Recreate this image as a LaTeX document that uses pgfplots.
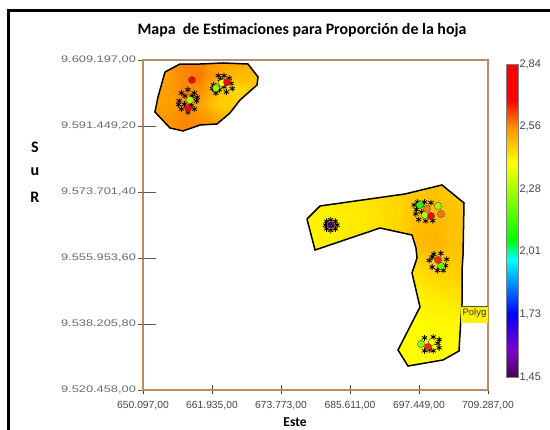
\documentclass[border=0pt]{standalone}
\usepackage{pgfplots}
\usepackage{fontspec}
\pgfplotsset{compat=1.18}
\setmainfont{Liberation Sans}
\newfontfamily\yfont[FakeStretch=1.35]{Liberation Sans}
\newfontfamily\titlefont{Carlito}
\definecolor{axisbrown}{RGB}{188,140,96}
\definecolor{lbl}{RGB}{70,70,70}
\begin{document}
\begin{tikzpicture}[x=1pt,y=1pt]
\path[use as bounding box,fill=white] (-143,-40) rectangle (407,390);
\draw[black,line width=3pt] (-134,-40) -- (-134,379) -- (407,379);
\begin{axis}[
  scale only axis, width=345pt, height=330pt,
  xmin=650.097, xmax=709.287, ymin=9520.458, ymax=9609.197,
  axis line style={axisbrown,line width=1.3pt},
  xtick={650.097,661.935,673.773,685.611,697.449,709.287},
  xticklabels={{650.097,00},{661.935,00},{673.773,00},{685.611,00},{697.449,00},{709.287,00}},
  ytick={9520.458,9538.2058,9555.9536,9573.7014,9591.4492,9609.197},
  yticklabels={{9.520.458,00},{9.538.205,80},{9.555.953,60},{9.573.701,40},{9.591.449,20},{9.609.197,00}},
  xticklabel style={font=\fontsize{10.3}{12}\selectfont,text=lbl,yshift=-3pt},
  yticklabel style={font=\yfont\fontsize{9.5}{11}\selectfont,text=lbl!80,xshift=1pt},
  tick align=center, major tick length=9pt, xtick pos=bottom, ytick pos=left,
  x tick style={black!75,line width=0.7pt},
  y tick style={black!65,line width=0.7pt},
  colormap={estim}{
    rgb255(0pt)=(70,0,90); rgb255(12pt)=(128,0,200); rgb255(28pt)=(0,0,255);
    rgb255(52pt)=(0,255,255); rgb255(61pt)=(0,255,0); rgb255(95pt)=(255,255,0);
    rgb255(111pt)=(255,145,0); rgb255(123pt)=(255,0,0); rgb255(139pt)=(255,0,0)},
  colormap name=estim,
  point meta min=1.45, point meta max=2.84,
  colorbar,
  colorbar shift/.style={},
  colorbar style={
    at={(1.05217,0.03939)}, anchor=south west,
    width=12pt, height=313pt,
    ytick={1.45,1.728,2.006,2.284,2.562,2.84},
    yticklabels={{1,45},{1,73},{2,01},{2,28},{2,56},{2,84}},
    yticklabel style={font=\fontsize{11}{12}\selectfont,text=lbl,xshift=-2pt},
    major tick length=0pt,
    axis line style={gray,line width=0.8pt},
  },
]
% north block surface
\begin{scope}
\clip (653.87,9605.97) -- (656.45,9608.12) -- (659.88,9608.12) -- (663.82,9608.39) -- (668.11,9608.12) -- (669.83,9604.63) -- (669.66,9602.48) -- (666.74,9598.44) -- (665.02,9594.95) -- (662.79,9591.99) -- (659.88,9591.72) -- (656.96,9590.11) -- (654.73,9590.91) -- (652.15,9595.22) -- (652.67,9599.25) -- cycle;
\addplot[surf,shader=interp,mesh/cols=8,point meta=explicit] table[x=x,y=y,meta=c] {
x y c
651 9589 2.54
654 9589 2.55
657 9589 2.57
660 9589 2.56
663 9589 2.55
666 9589 2.53
669 9589 2.53
672 9589 2.53
651 9593 2.54
654 9593 2.55
657 9593 2.57
660 9593 2.56
663 9593 2.53
666 9593 2.51
669 9593 2.51
672 9593 2.51
651 9597 2.54
654 9597 2.54
657 9597 2.55
660 9597 2.53
663 9597 2.47
666 9597 2.47
669 9597 2.49
672 9597 2.49
651 9601 2.54
654 9601 2.54
657 9601 2.57
660 9601 2.56
663 9601 2.48
666 9601 2.45
669 9601 2.47
672 9601 2.48
651 9605 2.54
654 9605 2.54
657 9605 2.57
660 9605 2.58
663 9605 2.53
666 9605 2.50
669 9605 2.49
672 9605 2.49
651 9609 2.55
654 9609 2.55
657 9609 2.57
660 9609 2.57
663 9609 2.54
666 9609 2.53
669 9609 2.53
672 9609 2.52
};
\end{scope}
% south block surface
\begin{scope}
\clip (678.23,9566.44) -- (680.46,9569.94) -- (695.05,9573.17) -- (701.39,9575.59) -- (705.17,9570.75) -- (705.00,9556.76) -- (704.83,9552.73) -- (704.83,9543.85) -- (704.49,9535.79) -- (704.31,9530.95) -- (701.57,9528.53) -- (695.56,9526.91) -- (693.85,9531.21) -- (697.62,9542.78) -- (696.25,9551.92) -- (697.11,9555.95) -- (696.93,9558.64) -- (696.25,9562.14) -- (690.76,9564.02) -- (679.61,9558.10) -- cycle;
\addplot[surf,shader=interp,mesh/cols=8,point meta=explicit] table[x=x,y=y,meta=c] {
x y c
676 9525 2.40
682 9525 2.40
688 9525 2.40
694 9525 2.40
697 9525 2.40
700 9525 2.40
703 9525 2.40
706 9525 2.41
676 9532 2.40
682 9532 2.40
688 9532 2.40
694 9532 2.40
697 9532 2.40
700 9532 2.40
703 9532 2.40
706 9532 2.41
676 9539 2.40
682 9539 2.40
688 9539 2.40
694 9539 2.40
697 9539 2.40
700 9539 2.41
703 9539 2.41
706 9539 2.42
676 9546 2.41
682 9546 2.41
688 9546 2.41
694 9546 2.41
697 9546 2.42
700 9546 2.43
703 9546 2.44
706 9546 2.45
676 9553 2.42
682 9553 2.42
688 9553 2.42
694 9553 2.44
697 9553 2.45
700 9553 2.47
703 9553 2.47
706 9553 2.47
676 9560 2.42
682 9560 2.42
688 9560 2.44
694 9560 2.47
697 9560 2.50
700 9560 2.51
703 9560 2.49
706 9560 2.48
676 9567 2.42
682 9567 2.42
688 9567 2.43
694 9567 2.46
697 9567 2.49
700 9567 2.50
703 9567 2.49
706 9567 2.48
676 9574 2.42
682 9574 2.43
688 9574 2.44
694 9574 2.46
697 9574 2.48
700 9574 2.49
703 9574 2.48
706 9574 2.47
676 9578 2.46
682 9578 2.46
688 9578 2.46
694 9578 2.46
697 9578 2.47
700 9578 2.47
703 9578 2.46
706 9578 2.46
};
\end{scope}
% inner parts of the y ticks
\draw[black!65,line width=0.7pt] (650.097,9591.4492) -- (652.3,9591.4492);
\draw[black!65,line width=0.7pt] (650.097,9573.7014) -- (652.3,9573.7014);
\draw[black!65,line width=0.7pt] (650.097,9555.9536) -- (652.3,9555.9536);
\draw[black!65,line width=0.7pt] (650.097,9538.2058) -- (652.3,9538.2058);
% outlines
\addplot[black,line width=1.5pt] coordinates {(653.87,9605.97) (656.45,9608.12) (659.88,9608.12) (663.82,9608.39) (668.11,9608.12) (669.83,9604.63) (669.66,9602.48) (666.74,9598.44) (665.02,9594.95) (662.79,9591.99) (659.88,9591.72) (656.96,9590.11) (654.73,9590.91) (652.15,9595.22) (652.67,9599.25) (653.87,9605.97)};
\addplot[black,line width=1.5pt] coordinates {(678.23,9566.44) (680.46,9569.94) (695.05,9573.17) (701.39,9575.59) (705.17,9570.75) (705.00,9556.76) (704.83,9552.73) (704.83,9543.85) (704.49,9535.79) (704.31,9530.95) (701.57,9528.53) (695.56,9526.91) (693.85,9531.21) (697.62,9542.78) (696.25,9551.92) (697.11,9555.95) (696.93,9558.64) (696.25,9562.14) (690.76,9564.02) (679.61,9558.10) (678.23,9566.44)};
% sample spikes
\addplot[only marks,mark=asterisk,mark size=3pt,mark options={black,line width=0.8pt}] coordinates {
(656.3,9598.2) (659.3,9598.2) (657.8,9601.2) (657.8,9595.2) (656.7,9600.3) (658.9,9600.3) (656.7,9596.0) (658.9,9596.0) (657.2,9597.3) (658.5,9599.5) (657.3,9599.5) (658.4,9597.0) (656.2,9597.2) (659.4,9599.2)
(662.2,9602.5) (665.2,9602.9) (664.0,9605.0) (663.0,9605.0) (664.9,9604.3) (662.6,9600.3) (664.4,9600.6) (665.4,9601.5) (663.4,9604.0) (664.0,9602.0) (663.2,9601.2) (662.0,9601.5)
(681.4,9564.8) (683.4,9564.8) (682.3,9566.2) (682.3,9563.4) (681.6,9565.8) (683.1,9565.8) (681.6,9563.8) (683.1,9563.8)
(697.0,9569.0) (697.2,9571.0) (698.4,9571.0) (699.5,9570.8) (696.9,9567.8) (697.4,9566.3) (698.6,9565.9) (699.8,9566.0) (697.9,9568.3) (697.8,9570.2) (696.6,9570.2)
(699.2,9555.3) (702.2,9555.6) (700.0,9557.0) (701.2,9557.2) (699.7,9553.5) (702.0,9553.9) (700.6,9552.6) (701.6,9552.6) (699.7,9556.2)
(697.9,9533.0) (700.7,9533.0) (698.4,9534.5) (699.9,9534.7) (698.4,9531.0) (699.9,9531.0) (700.9,9531.8) (700.9,9534.0) (699.2,9531.2)
};
% samples coloured by value
\addplot[scatter,only marks,scatter src=explicit,mark=*,mark size=3.6pt,
  scatter/use mapped color={draw=black!70,fill=mapped color}] table[x=x,y=y,meta=c] {
x y c
658.16 9598.44 2.30
657.82 9596.29 2.72
658.50 9603.82 2.75
662.62 9601.67 2.25
663.65 9603.02 2.38
664.51 9603.28 2.72
682.35 9564.83 1.47
697.62 9570.21 2.10
700.71 9569.94 2.28
698.82 9569.13 2.58
698.48 9567.52 2.30
701.22 9567.79 2.58
699.51 9567.25 2.75
701.22 9553.80 2.18
700.71 9555.42 2.65
697.79 9532.83 2.25
699.68 9533.37 2.38
699.00 9532.02 2.65
};
% cut-off polygon label
\fill[yellow] (704.66,9543.05) rectangle (709.287,9538.48);
\draw[black!70,line width=0.7pt] (704.66,9543.05) -- (709.287,9543.05);
\node[anchor=west,inner sep=0pt,text=black!80,font=\fontsize{9.5}{11}\selectfont] at (704.9,9541.1) {Polyg};
\end{axis}
\node[font=\titlefont\bfseries\fontsize{15.9}{18}\selectfont] at (159,360) {Mapa\ \ de Estimaciones para Proporción de la hoja};
\node[font=\titlefont\bfseries\fontsize{16}{18}\selectfont] at (-108,243) {S};
\node[font=\titlefont\bfseries\fontsize{16}{18}\selectfont] at (-108,218) {u};
\node[font=\titlefont\bfseries\fontsize{16}{18}\selectfont] at (-108,193) {R};
\node[font=\titlefont\bfseries\fontsize{13.5}{15}\selectfont,inner sep=0pt] at (152,-32) {Este};
\end{tikzpicture}
\end{document}
